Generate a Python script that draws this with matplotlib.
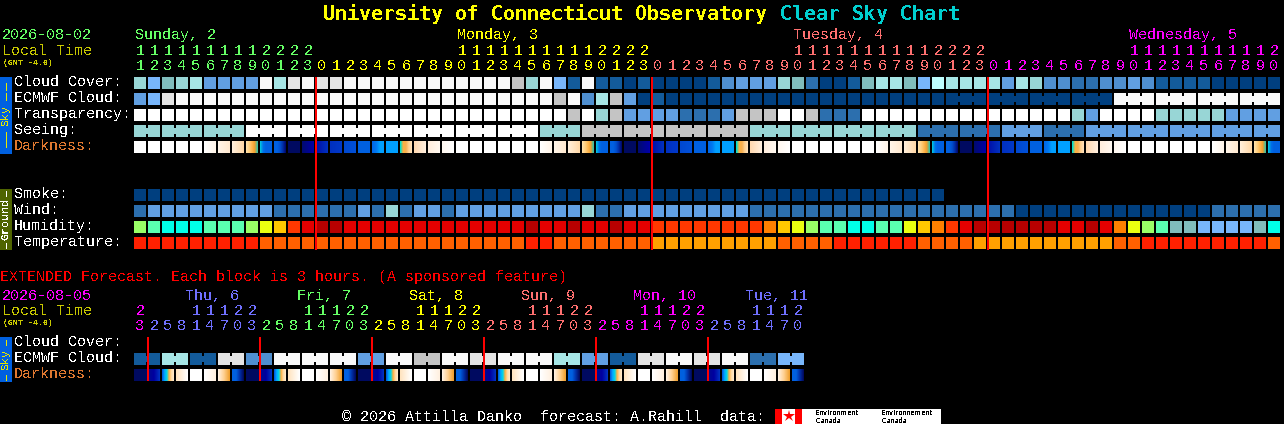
import numpy as np
import matplotlib
matplotlib.use('Agg')
import matplotlib.pyplot as plt
from matplotlib.colors import to_rgb
from matplotlib.patches import Rectangle

plt.rcParams['font.family'] = ['Liberation Mono', 'DejaVu Sans Mono']
plt.rcParams['text.antialiased'] = False
plt.rcParams['text.hinting'] = 'native'
plt.rcParams['text.hinting_factor'] = 1

# colour levels
SKY = ['#003f7f', '#135b9b', '#2c6fae', '#4f8fd0', '#619fe2', '#78b6fb', '#80bcbc',
       '#98d6d6', '#a6e6e6', '#bdfdfd', '#c4c4c4', '#e4e4e4', '#f9f9f9', '#ffffff']
HUMID = ['#b80000', '#e40000', '#ff3800', '#ff8000', '#ffc800', '#eaff10',
         '#99ff66', '#5affb0', '#00ffe8', '#80bcbc', '#78b6fb']
TEMP = ['#ff2000', '#ff6000', '#ffa000']

# one entry per hour, first hour is 11:00 on Sunday
HOURS = [11, 12, 13, 14, 15, 16, 17, 18, 19, 20, 21, 22, 23] + list(range(24)) * 2 + list(range(21))
CLOUD = [7, 5, 6, 7, 8, 4, 4, 4, 4, 12,
         8, 11, 12, 11, 11, 12, 12, 12, 12, 12,
         12, 12, 12, 12, 12, 12, 12, 10, 7, 12,
         5, 1, 12, 1, 1, 0, 1, 0, 0, 0,
         0, 1, 3, 4, 4, 4, 7, 6, 2, 0,
         0, 1, 6, 8, 8, 6, 5, 9, 8, 8,
         8, 8, 4, 8, 7, 3, 3, 2, 2, 3,
         3, 4, 3, 1, 1, 1, 1, 0, 0, 0,
         0, 0]
ECMWF = [4, 5, 11, 12, 12, 12, 12, 12, 12, 12,
         12, 12, 12, 12, 12, 12, 12, 12, 12, 12,
         12, 12, 12, 12, 12, 12, 12, 12, 12, 12,
         10, 12, 3, 8, 10, 4, 0, 1, 0, 0,
         0, 0, 0, 0, 0, 0, 0, 0, 0, 0,
         0, 0, 0, 0, 0, 0, 0, 0, 0, 0,
         0, 0, 0, 0, 0, 0, 0, 0, 0, 0,
         12, 12, 12, 12, 12, 12, 12, 12, 12, 12,
         12, 12]
TRANSPARENCY = [13, 13, 13, 13, 13, 13, 13, 13, 13, 13,
                13, 13, 13, 13, 13, 13, 13, 13, 13, 13,
                13, 13, 13, 13, 13, 13, 13, 13, 13, 13,
                13, 10, 13, 7, 10, 4, 4, 4, 4, 2,
                2, 2, 4, 10, 10, 10, 13, 13, 10, 2,
                2, 2, 13, 13, 13, 13, 13, 13, 13, 13,
                13, 13, 13, 13, 13, 13, 13, 7, 4, 13,
                13, 13, 13, 7, 7, 7, 7, 7, 4, 4,
                4, 4]
SEEING = [7, 7, 7, 7, 7, 7, 7, 7, 13, 13,
          13, 13, 13, 13, 13, 13, 13, 13, 13, 13,
          13, 13, 13, 13, 13, 13, 13, 13, 13, 7,
          7, 7, 10, 10, 10, 10, 10, 10, 10, 10,
          10, 10, 10, 10, 7, 7, 7, 7, 7, 7,
          7, 7, 7, 7, 7, 7, 2, 2, 2, 2,
          2, 2, 4, 4, 4, 2, 2, 2, 4, 4,
          4, 4, 4, 4, 4, 4, 4, 4, 4, 4,
          4, 4]
DARKNESS = 'WWWWWabcdefghijklmnopqrW' 'WWWWWabcdefghijklmnopqrW' 'WWWWWabcdefghijklmnopqrW' 'WWWWWabcde'
SMOKE = [0] * 58
WIND = [2, 4, 4, 4, 4, 4, 4, 4, 4, 4,
        2, 2, 2, 2, 2, 2, 4, 2, 7, 2,
        4, 4, 2, 4, 4, 4, 4, 4, 4, 4,
        4, 4, 7, 2, 2, 4, 4, 4, 4, 4,
        4, 4, 4, 4, 2, 2, 2, 2, 2, 2,
        2, 2, 2, 2, 2, 2, 2, 2, 2, 2,
        2, 2, 2, 0, 0, 0, 0, 0, 0, 0,
        0, 0, 0, 0, 0, 0, 0, 2, 2, 2,
        2, 2]
HUMIDITY = [6, 7, 8, 8, 8, 7, 7, 7, 6, 5,
            4, 2, 1, 0, 0, 1, 1, 1, 1, 1,
            1, 1, 1, 1, 1, 1, 1, 1, 0, 1,
            1, 0, 1, 1, 0, 1, 1, 2, 2, 2,
            2, 2, 2, 2, 2, 3, 4, 5, 6, 7,
            7, 8, 8, 7, 7, 5, 4, 3, 2, 1,
            0, 0, 0, 0, 0, 0, 1, 1, 0, 1,
            3, 5, 6, 7, 9, 9, 10, 10, 10, 10,
            9, 8]
TEMPERATURE = [0, 0, 0, 0, 0, 0, 0, 0, 0, 1,
               1, 1, 1, 1, 1, 1, 1, 1, 1, 1,
               1, 1, 1, 1, 1, 1, 1, 1, 0, 0,
               1, 1, 1, 1, 1, 1, 1, 2, 2, 2,
               2, 2, 2, 2, 2, 2, 1, 1, 1, 1,
               0, 0, 0, 0, 0, 0, 1, 1, 1, 1,
               2, 2, 2, 2, 2, 2, 2, 2, 2, 2,
               1, 1, 0, 0, 0, 0, 0, 0, 0, 0,
               0, 1]
MIDNIGHTS = [13, 37, 61]

# extended forecast, 3 hour blocks starting 23:00 Wednesday
EXT_HOURS = [23, 2, 5, 8, 11, 14, 17, 20, 23, 2, 5, 8, 11, 14, 17, 20, 23, 2, 5, 8, 11, 14, 17, 20,
             23, 2, 5, 8, 11, 14, 17, 20, 23, 2, 5, 8, 11, 14, 17, 20, 23, 2, 5, 8, 11, 14, 17, 20]
EXT_ECMWF = [1, 8, 1, 11, 3, 12, 12, 12, 4, 12, 10, 12, 11, 12, 12, 8, 4, 1, 11, 12, 11, 12, 2, 5]
EXT_DARKNESS = 'ABCDEFGH' * 6
EXT_MIDNIGHTS = [1, 9, 17, 25, 33, 41]

DAY_COLORS = {'green': '#66ff66', 'yellow': '#ffff00', 'salmon': '#ff7070',
              'magenta': '#ff00ff', 'blue': '#7070ff'}
MAIN_DAYS = [('Sunday, 2', 0, 135, 'green'), ('Monday, 3', 13, 457, 'yellow'),
             ('Tuesday, 4', 37, 793, 'salmon'), ('Wednesday, 5', 61, 1129, 'magenta')]
EXT_DAYS = [('', 0, 0, 'magenta'), ('Thu, 6', 1, 185, 'blue'), ('Fri, 7', 9, 297, 'green'),
            ('Sat, 8', 17, 409, 'yellow'), ('Sun, 9', 25, 521, 'salmon'),
            ('Mon, 10', 33, 633, 'magenta'), ('Tue, 11', 41, 745, 'blue')]

# colour stops inside one darkness block
STOPS = {
    'W': ['#ffffff', '#ffffff'],
    'a': ['#ffffff', '#fff5e8'],
    'b': ['#fff5e8', '#ffe9d0'],
    'c': ['#ffeeda', '#ffd9a8'],
    'd': ['#ffe0a8', '#ffd080', '#ffb850', '#f0a030', '#40c0a0'],
    'e': ['#00c0e0', '#0070e8', '#0060e0', '#0060e0', '#0060e0'],
    'f': ['#0060e0', '#0060e0', '#0050d0', '#0030a8', '#000a70'],
    'g': ['#000a60', '#000a60'],
    'h': ['#000a70', '#0000a8'],
    'i': ['#0010a8', '#0030c0'],
    'j': ['#0030c0', '#0038c8'],
    'k': ['#0048d0', '#0050d8'],
    'l': ['#0060e0', '#0060e0'],
    'm': ['#0068e8', '#0078f0', '#00a0ff', '#00a0ff'],
    'n': ['#00a0ff', '#00a0ff'],
    'o': ['#00e0d0', '#ffb040', '#f8b050', '#ffd090', '#ffe0b8'],
    'p': ['#ffd9b0', '#ffeedd'],
    'q': ['#ffeedd', '#fff8f0'],
    'r': ['#fff8f0', '#ffffff'],
    'A': ['#000a60', '#000a60'],
    'B': ['#000a90', '#0000a0', '#0030c0'],
    'C': ['#0060e0', '#00a8ff', '#00d8e8', '#ffb040', '#ffd9a0', '#ffe8c8'],
    'D': ['#ffe4c0', '#ffffff'],
    'E': ['#ffffff', '#ffffff'],
    'F': ['#ffffff', '#fff0e0'],
    'G': ['#fff0e0', '#ffd090', '#f0a030'],
    'H': ['#0060e0', '#0060e0', '#0030a8', '#000a60'],
}

X0 = 134
PITCH = 14
CELL = 12
WHITE = '#ffffff'
ORANGE = '#e07830'
OLIVE = '#4f6400'
YELLOW = '#c8c800'

fig = plt.figure(figsize=(12.84, 4.24), dpi=100, facecolor='black')
ax = fig.add_axes([0, 0, 1, 1])
ax.set_facecolor('black')
ax.axis('off')


def box(x, y, w, h, color, zorder=2):
    ax.add_patch(Rectangle((x, y), w, h, facecolor=color, edgecolor='none', lw=0,
                           antialiased=False, zorder=zorder))


def blocks(values, palette, y, first_group=None):
    """a row of blocks, blocks of one 3 hour group get a thin bridge"""
    for i, v in enumerate(values):
        x = X0 + i * PITCH
        box(x, y, CELL, CELL, palette[v])
        if first_group is not None and i < len(values) - 1:
            if i >= first_group and (i - first_group) % 3 != 2:
                box(x + CELL, y + 3, PITCH - CELL, 6, palette[v])
            elif first_group == 2 and i == 0:
                box(x + CELL, y + 3, PITCH - CELL, 6, palette[v])


def gradients(codes, y):
    for i, code in enumerate(codes):
        width = PITCH if code == 'A' else CELL
        rgb = np.array([to_rgb(c) for c in STOPS[code]])
        pos = np.linspace(0, 1, len(rgb))
        at = np.linspace(0, 1, width)
        line = np.stack([np.interp(at, pos, rgb[:, k]) for k in range(3)], axis=1)
        x = X0 + i * PITCH
        ax.imshow(line[np.newaxis, :, :], extent=(x, x + width, y + CELL, y), aspect='auto',
                  interpolation='nearest', zorder=2)


def label(x, y, s, color=WHITE, size=10.8, **kw):
    ax.text(x, y, s, color=color, fontsize=size, va='baseline', **kw)


def hour_labels(hours, days, base, name_y):
    for n, (name, start, name_x, color) in enumerate(days):
        end = days[n + 1][1] if n + 1 < len(days) else len(hours)
        col = DAY_COLORS[color]
        if name:
            label(name_x, name_y, name, col)
        for i in range(start, end):
            cx = X0 + i * PITCH + CELL / 2
            if hours[i] >= 10:
                label(cx, base + 15, str(hours[i] // 10), col, ha='center')
            label(cx, base + 30, str(hours[i] % 10), col, ha='center')


def side_bar(y0, y1, color, text, text_color, text_y, dashes):
    box(0, y0, 12, y1 - y0, color)
    ax.text(6, text_y, text, color=text_color, fontsize=8, rotation=90,
            ha='center', va='center', fontweight='bold' if text == 'Ground' else 'normal')
    for a, b in dashes:
        ax.vlines(6, a, b, color=text_color, lw=0.72, antialiased=False, zorder=3)


# title
ax.text(323, 20, 'University of Connecticut Observatory', color='#ffff00', fontsize=14.35,
        family='DejaVu Sans Mono', fontweight='bold', va='baseline')
ax.text(780, 20, 'Clear Sky Chart', color='#00d0d0', fontsize=14.35, family='DejaVu Sans Mono',
        fontweight='bold', va='baseline')

# main table
label(2, 39, '2026-08-02', DAY_COLORS['green'])
label(2, 55, 'Local Time', YELLOW)
label(3, 65, '(GMT -4.0)', YELLOW, size=6, fontweight='bold')
hour_labels(HOURS, MAIN_DAYS, 40, 39)

main_labels = ['Cloud Cover:', 'ECMWF Cloud:', 'Transparency:', 'Seeing:', 'Darkness:']
for n, s in enumerate(main_labels):
    label(14, 86 + 16 * n, s, ORANGE if s == 'Darkness:' else WHITE)
ground_labels = ['Smoke:', 'Wind:', 'Humidity:', 'Temperature:']
for n, s in enumerate(ground_labels):
    label(14, 198 + 16 * n, s)

blocks(CLOUD, SKY, 77)
blocks(ECMWF, SKY, 93, first_group=58)
blocks(TRANSPARENCY, SKY, 109)
blocks(SEEING, SKY, 125, first_group=2)
gradients(DARKNESS, 141)
blocks(SMOKE, SKY, 189)
blocks(WIND, SKY, 205)
blocks(HUMIDITY, HUMID, 221)
blocks(TEMPERATURE, TEMP, 237)

for i in MIDNIGHTS:
    ax.vlines(X0 + i * PITCH, 77, 250, color='#ff0000', lw=1.44, antialiased=False, zorder=4)

side_bar(77, 154, '#0060e0', 'Sky', '#e8e800', 115, [(83, 90), (93, 100), (132, 139), (140, 147)])
side_bar(189, 250, OLIVE, 'Ground', WHITE, 219, [(191, 196), (243, 248)])

# extended forecast
label(0, 281, 'EXTENDED Forecast. Each block is 3 hours. (A sponsored feature)', '#ff0000')
label(2, 300, '2026-08-05', DAY_COLORS['magenta'])
label(2, 315, 'Local Time', YELLOW)
label(3, 325, '(GMT -4.0)', YELLOW, size=6, fontweight='bold')
hour_labels(EXT_HOURS, EXT_DAYS, 300, 300)

label(14, 346, 'Cloud Cover:')
label(14, 362, 'ECMWF Cloud:')
label(14, 378, 'Darkness:', ORANGE)

for n, v in enumerate(EXT_ECMWF):
    x = X0 + 2 * n * PITCH
    box(x, 353, CELL, CELL, SKY[v])
    box(x + PITCH, 353, CELL, CELL, SKY[v])
    box(x + CELL, 356, PITCH - CELL, 6, SKY[v])
gradients(EXT_DARKNESS, 369)

for i in EXT_MIDNIGHTS:
    ax.vlines(X0 + i * PITCH, 337, 381, color='#ff0000', lw=1.44, antialiased=False, zorder=4)

side_bar(337, 382, '#0060e0', 'Sky', '#e8e800', 360, [(340, 345), (375, 380)])

# footer and Environment Canada logo
label(342, 421, '\u00a9 2026 Attilla Danko  forecast: A.Rahill  data:')
box(775, 409, 166, 15, WHITE)
box(775, 409, 7, 15, '#ff0000')
box(795, 409, 7, 15, '#ff0000')
ax.plot([788.5], [416], marker='*', color='#ff0000', markersize=9, markeredgewidth=0, zorder=3)
for x, s in [(815, 'Environment'), (881, 'Environnement')]:
    ax.text(x, 415, s, color='black', fontsize=5.4, family='DejaVu Sans', va='baseline', zorder=3)
    ax.text(x, 423, 'Canada', color='black', fontsize=5.4, family='DejaVu Sans', va='baseline', zorder=3)

ax.set_xlim(0, 1284)
ax.set_ylim(424, 0)
fig.savefig('out.png', dpi=100, facecolor='black')
